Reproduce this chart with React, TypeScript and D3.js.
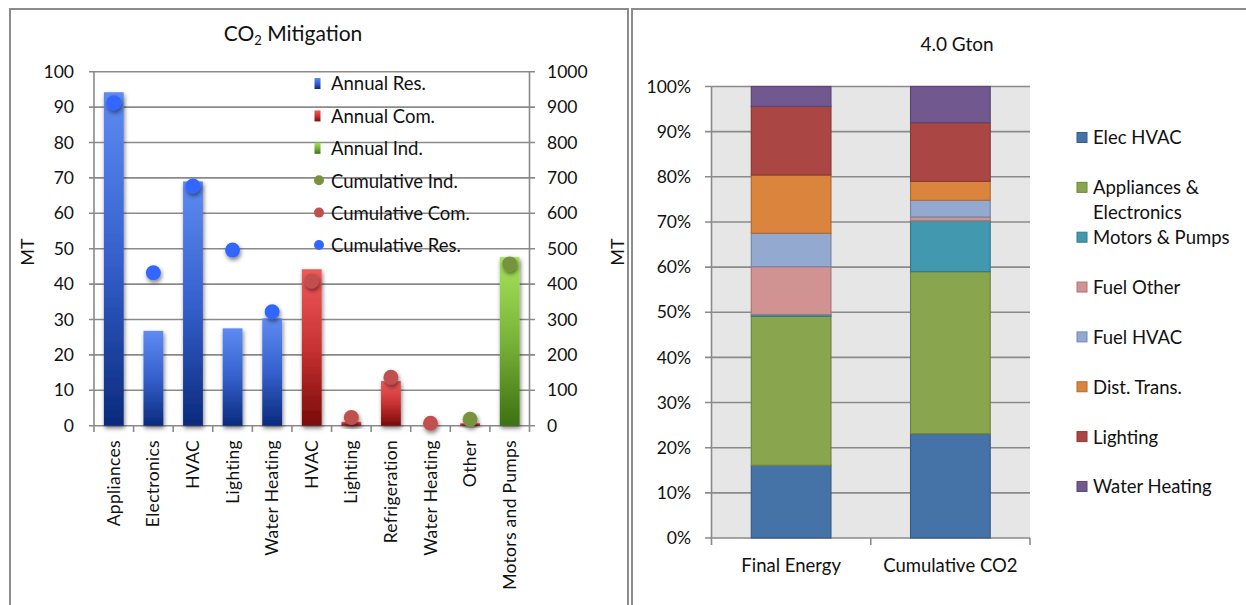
import React from 'react';
import * as d3 from 'd3';

// ---------- Left chart data ----------
const categories = ['Appliances', 'Electronics', 'HVAC', 'Lighting', 'Water Heating', 'HVAC', 'Lighting', 'Refrigeration', 'Water Heating', 'Other', 'Motors and Pumps'];
const annualRes: (number | null)[] = [94.2, 26.8, 69, 27.5, 30.3, null, null, null, null, null, null];
const annualCom: (number | null)[] = [null, null, null, null, null, 44.2, 1.1, 12.6, 0, 0.7, null];
const annualInd: (number | null)[] = [null, null, null, null, null, null, null, null, null, null, 47.6];
const cumulativeRes: (number | null)[] = [912, 432, 677, 496, 322, null, null, null, null, null, null];
const cumulativeCom: (number | null)[] = [null, null, null, null, null, 409, 23, 137, 7, null, null];
const cumulativeInd: (number | null)[] = [null, null, null, null, null, null, null, null, null, 18, 457];
const leftTicks = [0, 10, 20, 30, 40, 50, 60, 70, 80, 90, 100];
const rightTicks = [0, 100, 200, 300, 400, 500, 600, 700, 800, 900, 1000];
const leftLegend = ['Annual Res.', 'Annual Com.', 'Annual Ind.', 'Cumulative Ind.', 'Cumulative Com.', 'Cumulative Res.'];

// ---------- Right chart data ----------
const stackCategories = ['Final Energy', 'Cumulative CO2'];
const stackSeries = ['Elec HVAC', 'Appliances & Electronics', 'Motors & Pumps', 'Fuel Other', 'Fuel HVAC', 'Dist. Trans.', 'Lighting', 'Water Heating'];
const finalEnergy = [16.1, 33.0, 0.4, 10.6, 7.4, 12.9, 15.2, 4.4];
const cumulativeCO2 = [23.1, 35.9, 11.3, 0.8, 3.7, 4.2, 13.0, 8.0];
const pctTicks = [0, 10, 20, 30, 40, 50, 60, 70, 80, 90, 100];
const stackColors = ['#4572A7', '#89A54E', '#4198AF', '#D19392', '#93A9CF', '#DB843D', '#AA4643', '#71588F'];

const FONT = 'Lato, "Open Sans", sans-serif';
const GRID = '#8a8a8a';

export default function App() {
  // ----- left chart scales -----
  const lx = d3.scaleBand<number>().domain(categories.map((_, i) => i)).range([94, 529.5]).padding(0);
  const ly = d3.scaleLinear().domain([0, 100]).range([425.7, 71.7]);
  const ry = d3.scaleLinear().domain([0, 1000]).range([425.7, 71.7]);
  const bw = lx.bandwidth() * 0.5;

  const barSeries = [
    { data: annualRes, grad: 'gRes' },
    { data: annualCom, grad: 'gCom' },
    { data: annualInd, grad: 'gInd' },
  ];
  const dotSeries = [
    { data: cumulativeInd, color: '#77933C' },
    { data: cumulativeCom, color: '#C0504D' },
    { data: cumulativeRes, color: '#3366FF' },
  ];

  // ----- right chart scales -----
  const sx = d3.scaleBand<string>().domain(stackCategories).range([711.5, 1030]).padding(0);
  const sy = d3.scaleLinear().domain([0, 100]).range([538, 86.5]);
  const sbw = sx.bandwidth() * 0.5;
  const tableRows = stackSeries.map((s, i) => ({ key: s, 'Final Energy': finalEnergy[i], 'Cumulative CO2': cumulativeCO2[i] }));
  const stackInput = stackCategories.map((c) => {
    const o: any = { cat: c };
    tableRows.forEach((r: any) => { o[r.key] = r[c]; });
    return o;
  });
  const stacked = d3.stack<any>().keys(stackSeries)(stackInput);

  const legendY = (i: number) => 84 + i * 32.4;
  const rLegendY = (i: number) => 138 + i * 49.85;

  return (
    <svg width={1246} height={605} style={{ position: 'absolute', left: 0, top: 0, background: '#fff' }} fontFamily={FONT}>
      <defs>
        <linearGradient id="gRes" x1="0" y1="0" x2="0" y2="1">
          <stop offset="0" stopColor="#5E8BF2" />
          <stop offset="0.5" stopColor="#3560CC" />
          <stop offset="1" stopColor="#0A2A7C" />
        </linearGradient>
        <linearGradient id="gCom" x1="0" y1="0" x2="0" y2="1">
          <stop offset="0" stopColor="#F05A5A" />
          <stop offset="0.5" stopColor="#C83232" />
          <stop offset="1" stopColor="#7A0A0A" />
        </linearGradient>
        <linearGradient id="gInd" x1="0" y1="0" x2="0" y2="1">
          <stop offset="0" stopColor="#A6E35C" />
          <stop offset="0.5" stopColor="#79B238" />
          <stop offset="1" stopColor="#3E7012" />
        </linearGradient>
        <filter id="shadow" x="-60%" y="-60%" width="220%" height="220%">
          <feDropShadow dx="1" dy="2.5" stdDeviation="2" floodColor="#000" floodOpacity="0.5" />
        </filter>
      </defs>

      {/* panel borders */}
      <rect x={10} y={9} width={618} height={620} fill="none" stroke="#8c8c8c" strokeWidth={2} />
      <rect x={632} y={9} width={630} height={620} fill="none" stroke="#8c8c8c" strokeWidth={2} />

      {/* ================= LEFT CHART ================= */}
      <text x={293} y={41} textAnchor="middle" fontSize={21} fill="#111">
        <tspan>CO</tspan>
        <tspan fontSize={13} dy={4}>2</tspan>
        <tspan dy={-4}> Mitigation</tspan>
      </text>

      {/* gridlines + ticks */}
      {leftTicks.map((t) => (
        <g key={'lg' + t}>
          <line x1={89} x2={535} y1={ly(t)} y2={ly(t)} stroke={GRID} strokeWidth={1.6} />
          <text x={74} y={ly(t)} dy="0.35em" textAnchor="end" fontSize={17.5} fill="#111">{t}</text>
        </g>
      ))}
      {rightTicks.map((t) => (
        <text key={'rt' + t} x={547} y={ry(t)} dy="0.35em" textAnchor="start" fontSize={17.5} fill="#111">{t}</text>
      ))}
      <line x1={94} x2={94} y1={71.7} y2={425.7} stroke={GRID} strokeWidth={1.6} />
      <line x1={529.5} x2={529.5} y1={71.7} y2={425.7} stroke={GRID} strokeWidth={1.6} />
      {categories.map((_, i) => (
        <line key={'ct' + i} x1={lx(i)!} x2={lx(i)!} y1={425.7} y2={432} stroke={GRID} strokeWidth={1.6} />
      ))}
      <line x1={529.5} x2={529.5} y1={425.7} y2={432} stroke={GRID} strokeWidth={1.6} />

      <text transform={`translate(34,252) rotate(-90)`} textAnchor="middle" fontSize={18} fill="#111">MT</text>
      <text transform={`translate(624,252) rotate(-90)`} textAnchor="middle" fontSize={18} fill="#111">MT</text>

      {/* legend */}
      {leftLegend.map((name, i) => {
        const y = legendY(i);
        const marker = i < 3 ? (
          <rect x={314.5} y={y - 6} width={6} height={11} fill={`url(#${['gRes', 'gCom', 'gInd'][i]})`} />
        ) : (
          <circle cx={319} cy={y - 1} r={5} fill={['#77933C', '#C0504D', '#3366FF'][i - 3]} />
        );
        return (
          <g key={'ll' + i}>
            {marker}
            <text x={331} y={y} dy="0.35em" fontSize={18.5} fill="#111">{name}</text>
          </g>
        );
      })}

      {/* bars */}
      {barSeries.map((s) =>
        s.data.map((v, i) =>
          v == null || v <= 0 ? null : (
            <rect
              key={s.grad + i}
              x={lx(i)! + (lx.bandwidth() - bw) / 2}
              y={ly(v)}
              width={bw}
              height={ly(0) - ly(v)}
              fill={`url(#${s.grad})`}
              filter="url(#shadow)"
            />
          )
        )
      )}

      {/* dots */}
      {dotSeries.map((s, si) =>
        s.data.map((v, i) =>
          v == null ? null : (
            <circle key={'d' + si + '-' + i} cx={lx(i)! + lx.bandwidth() / 2} cy={ry(v)} r={7.5} fill={s.color} filter="url(#shadow)" />
          )
        )
      )}

      {/* category labels */}
      {categories.map((c, i) => (
        <text
          key={'cl' + i}
          transform={`translate(${lx(i)! + lx.bandwidth() / 2 + 6},440) rotate(-90)`}
          textAnchor="end"
          fontSize={17.5}
          letterSpacing={0.3}
          fill="#111"
        >
          {c}
        </text>
      ))}

      {/* ================= RIGHT CHART ================= */}
      <text x={957} y={51} textAnchor="middle" fontSize={19} fill="#111">4.0 Gton</text>

      <rect x={711.5} y={86.5} width={1030 - 711.5} height={538 - 86.5} fill="#E6E6E6" />
      {pctTicks.map((t) => (
        <g key={'pg' + t}>
          <line x1={705} x2={1030} y1={sy(t)} y2={sy(t)} stroke={GRID} strokeWidth={1.6} />
          <text x={691} y={sy(t)} dy="0.35em" textAnchor="end" fontSize={17.5} fill="#111">{t}%</text>
        </g>
      ))}
      <line x1={711.5} x2={711.5} y1={86.5} y2={538} stroke={GRID} strokeWidth={1.6} />
      {[711.5, sx('Cumulative CO2')!, 1030].map((x, i) => (
        <line key={'st' + i} x1={x} x2={x} y1={538} y2={545} stroke={GRID} strokeWidth={1.6} />
      ))}

      {stacked.map((layer, li) =>
        layer.map((d, ci) => {
          const c = stackCategories[ci];
          const color = stackColors[li];
          return (
            <rect
              key={'s' + li + '-' + ci}
              x={sx(c)! + (sx.bandwidth() - sbw) / 2}
              y={sy(d[1])}
              width={sbw}
              height={Math.max(0, sy(d[0]) - sy(d[1]))}
              fill={color}
              stroke={d3.color(color)!.darker(0.6).formatHex()}
              strokeWidth={1.2}
            />
          );
        })
      )}

      {stackCategories.map((c) => (
        <text key={'sc' + c} x={sx(c)! + sx.bandwidth() / 2} y={566} dy="0.35em" textAnchor="middle" fontSize={18.5} fill="#111">{c}</text>
      ))}

      {/* right legend */}
      {stackSeries.map((s, i) => {
        const y = rLegendY(i);
        const color = stackColors[i];
        const lines = s === 'Appliances & Electronics' ? ['Appliances &', 'Electronics'] : [s];
        return (
          <g key={'rl' + i}>
            <rect x={1077} y={y - 5.5} width={10} height={10} fill={color} stroke={d3.color(color)!.darker(0.6).formatHex()} strokeWidth={1} />
            {lines.map((ln, k) => (
              <text key={k} x={1093} y={y + k * 25} dy="0.35em" fontSize={18.5} fill="#111">{ln}</text>
            ))}
          </g>
        );
      })}
    </svg>
  );
}
